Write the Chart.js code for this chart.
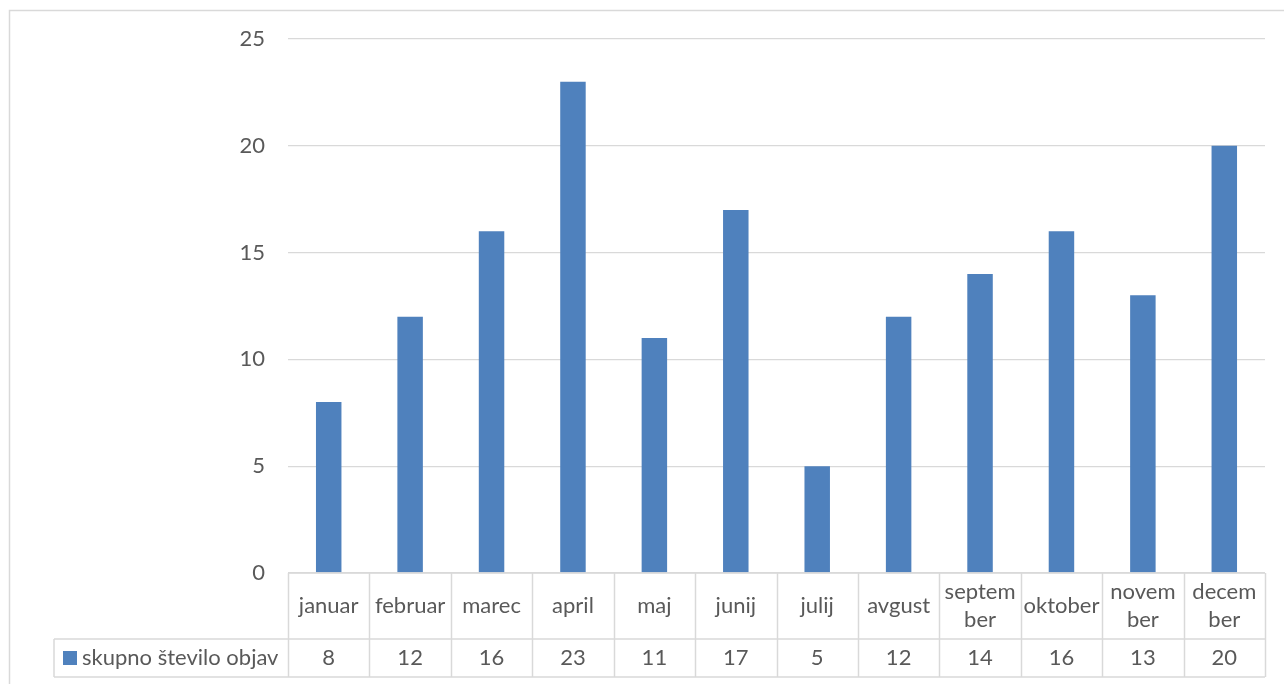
<!DOCTYPE html>
<html>
<head>
<meta charset="utf-8">
<script src="https://cdn.jsdelivr.net/npm/chart.js@4/dist/chart.umd.min.js"></script>
<style>
  html, body { margin: 0; padding: 0; background: #fff; }
  #wrap { width: 1284px; height: 684px; position: relative; }
</style>
</head>
<body>
<div id="wrap"><canvas id="chart"></canvas></div>
<script>
const months = [
  ['januar'], ['februar'], ['marec'], ['april'], ['maj'], ['junij'],
  ['julij'], ['avgust'], ['septem', 'ber'], ['oktober'], ['novem', 'ber'], ['decem', 'ber']
];
const seriesName = 'skupno število objav';
const posts = [8, 12, 16, 23, 11, 17, 5, 12, 14, 16, 13, 20];
const yTicks = [0, 5, 10, 15, 20, 25];

const FONT = 'Lato';
const TEXT = '#595959';
const LINE = '#d9d9d9';
const BLUE = '#4f81bd';

// excel-style data table under the plot
const dataTable = {
  id: 'dataTable',
  afterDraw(chart) {
    const ctx = chart.ctx;
    const area = chart.chartArea;
    const x = chart.scales.x;
    const n = months.length;
    const colW = (area.right - area.left) / n;
    const top = area.bottom;
    const mid = top + 66;
    const bottom = top + 104;
    const legendLeft = 54;

    ctx.save();
    // chart area frame
    ctx.strokeStyle = LINE;
    ctx.lineWidth = 1.5;
    ctx.beginPath();
    ctx.moveTo(9.5, 700);
    ctx.lineTo(9.5, 10.5);
    ctx.lineTo(1300, 10.5);
    ctx.stroke();

    ctx.lineWidth = 1.5;
    ctx.beginPath();
    ctx.moveTo(area.left, top);
    ctx.lineTo(area.right, top);
    ctx.moveTo(legendLeft, mid);
    ctx.lineTo(area.right, mid);
    ctx.moveTo(legendLeft, bottom);
    ctx.lineTo(area.right, bottom);
    ctx.moveTo(legendLeft, mid);
    ctx.lineTo(legendLeft, bottom);
    for (let i = 0; i <= n; i++) {
      const cx = Math.round(area.left + colW * i) + 0.5;
      ctx.moveTo(cx, top);
      ctx.lineTo(cx, bottom);
    }
    ctx.stroke();

    ctx.fillStyle = TEXT;
    ctx.font = '22px ' + FONT;
    ctx.textAlign = 'center';
    ctx.textBaseline = 'middle';
    const rowMid = (top + mid) / 2;
    months.forEach((lines, i) => {
      const cx = x.getPixelForValue(i);
      const lh = 28.5;
      const y0 = rowMid - (lines.length - 1) * lh / 2;
      lines.forEach((t, j) => ctx.fillText(t, cx, y0 + j * lh));
    });
    const valMid = (mid + bottom) / 2;
    posts.forEach((v, i) => {
      ctx.fillText(String(v), x.getPixelForValue(i), valMid);
    });

    // legend key in first column
    ctx.fillStyle = BLUE;
    ctx.fillRect(63, valMid - 7, 14, 14);
    ctx.fillStyle = TEXT;
    ctx.textAlign = 'left';
    ctx.fillText(seriesName, 82, valMid);
    ctx.restore();
  }
};

new Chart(document.getElementById('chart'), {
  type: 'bar',
  data: {
    labels: months,
    datasets: [{
      label: seriesName,
      data: posts,
      backgroundColor: BLUE,
      barPercentage: 0.313,
      categoryPercentage: 1
    }]
  },
  options: {
    responsive: true,
    maintainAspectRatio: false,
    animation: false,
    layout: {
      padding: { left: 0, right: 19, top: 39, bottom: 111 }
    },
    scales: {
      x: {
        grid: { display: false, drawTicks: false },
        border: { display: false },
        ticks: { display: false }
      },
      y: {
        min: 0,
        max: 25,
        afterFit: (scale) => { scale.width = 288; },
        afterBuildTicks: (scale) => { scale.ticks = yTicks.map((v) => ({ value: v })); },
        grid: { color: LINE, lineWidth: 1.3, drawTicks: false },
        border: { display: false },
        ticks: {
          padding: 23,
          color: TEXT,
          font: { family: FONT, size: 22 }
        }
      }
    },
    plugins: {
      legend: { display: false },
      tooltip: { enabled: false }
    }
  },
  plugins: [dataTable]
});
</script>
</body>
</html>
